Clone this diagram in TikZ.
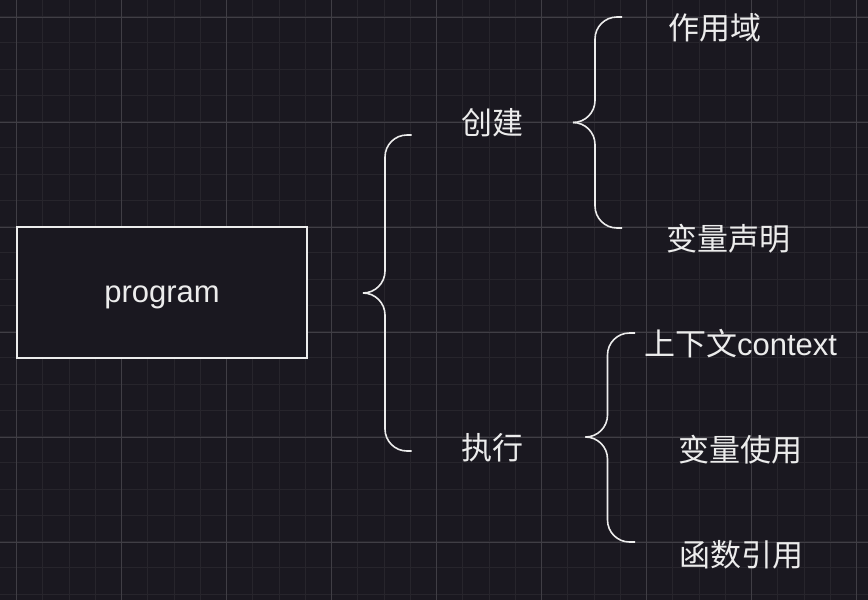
\documentclass[tikz,border=0pt]{standalone}
\usepackage{fontspec}
\setmainfont{Liberation Sans}
\newfontfamily\cjk{Noto Sans CJK SC}
\usetikzlibrary{positioning}
\definecolor{bgdark}{HTML}{1A1820}
\definecolor{gridminor}{HTML}{27252C}
\definecolor{gridmajor}{HTML}{403E45}
\definecolor{inkwhite}{HTML}{ECECEC}

\begin{document}
\begin{tikzpicture}[x=1pt,y=-1pt,
  every node/.style={text=inkwhite,font=\fontsize{31}{37}\selectfont},
  curly/.style={draw=inkwhite,line width=1.6pt,rounded corners=22pt}]
\useasboundingbox (0,0) rectangle (868,600);
\fill[bgdark] (0,0) rectangle (868,600);
%% grid
\foreach \k in {0,...,33} \draw[gridminor,line width=1pt] (-9.75+26.25*\k,0) -- (-9.75+26.25*\k,600);
\foreach \k in {0,...,23} \draw[gridminor,line width=1pt] (0,-9.75+26.25*\k) -- (868,-9.75+26.25*\k);
\foreach \k in {0,...,8} \draw[gridmajor,line width=1pt] (16.5+105*\k,0) -- (16.5+105*\k,600);
\foreach \k in {0,...,5} \draw[gridmajor,line width=1pt] (0,17+105*\k) -- (868,17+105*\k);

%% root
\node[draw=inkwhite,line width=1.6pt,fill=bgdark,minimum width=290pt,minimum height=131pt,
  text height=19pt,text depth=0pt] (prog) at (162,292.5) {program};

%% level 1
\node (cj) at (492,122.5) {\cjk 创建};
\node (zx) at (492,448) {\cjk 执行};

%% level 2
\node (zyy) at (715,28) {\cjk 作用域};
\node (blsm) at (728,239) {\cjk 变量声明};
\node (sxw) at (740.5,344) {{\cjk 上下文}context};
\node (blsy) at (740.5,450) {\cjk 变量使用};
\node (hsyy) at (741,555) {\cjk 函数引用};

%% braces
\coordinate (progtop) at (411.5,135);
\coordinate (progbot) at (411.5,451);
\coordinate (progspine) at (385,293);
\coordinate (progtip) at (363,293);
\coordinate (cjtop) at (622,17);
\coordinate (cjbot) at (622,228);
\coordinate (cjspine) at (595,122.5);
\coordinate (cjtip) at (573,122.5);
\coordinate (zxtop) at (635,333);
\coordinate (zxbot) at (635,542);
\coordinate (zxspine) at (607.5,437);
\coordinate (zxtip) at (586,437);
\draw[curly] (progtop) -| (progspine) -- (progtip); %%program
\draw[curly] (progbot) -| (progspine) -- (progtip);
\draw[curly] (cjtop) -| (cjspine) -- (cjtip); %%chuangjian
\draw[curly] (cjbot) -| (cjspine) -- (cjtip);
\draw[curly] (zxtop) -| (zxspine) -- (zxtip); %%zhixing
\draw[curly] (zxbot) -| (zxspine) -- (zxtip);

\end{tikzpicture}
\end{document}
